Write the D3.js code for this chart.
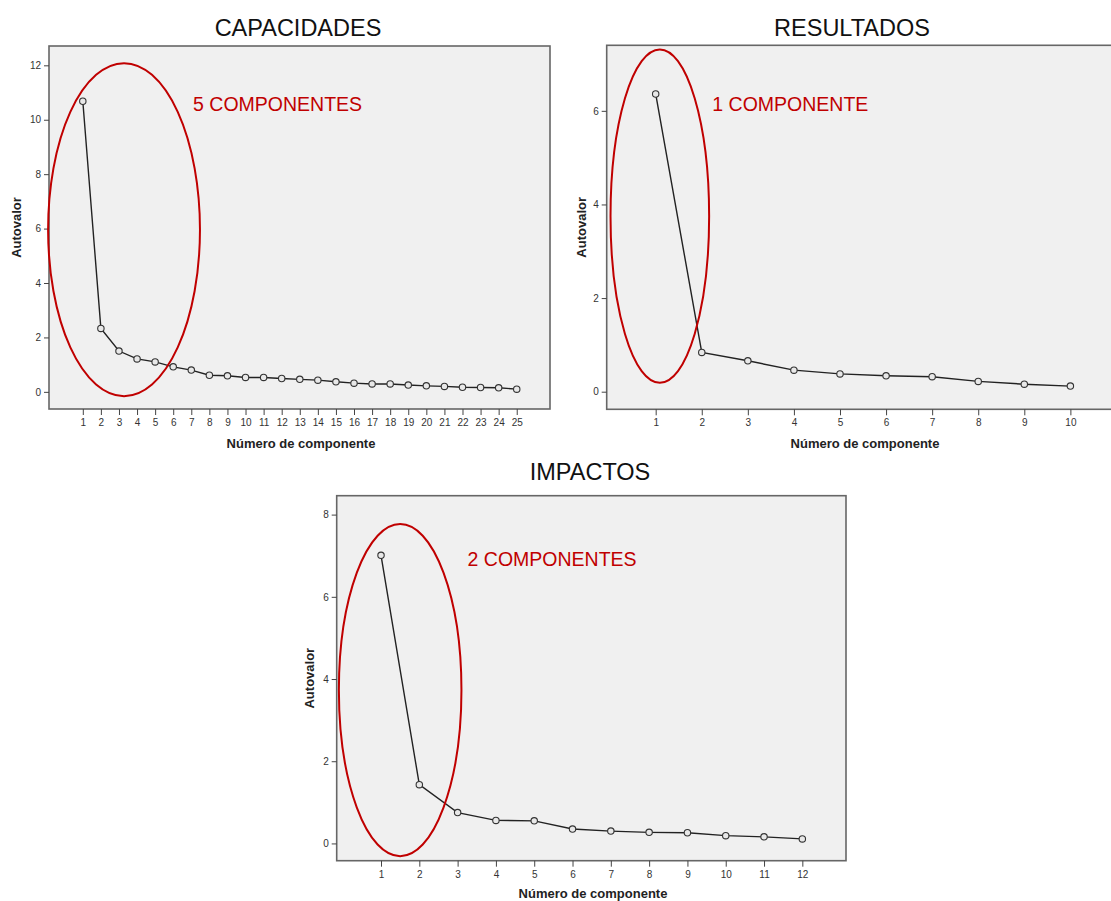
<!DOCTYPE html>
<html><head><meta charset="utf-8">
<script src="https://cdn.jsdelivr.net/npm/d3@7"></script>
<style>
body{margin:0;background:#fff;}
text{font-family:"Liberation Sans",Arial,sans-serif;}
</style></head>
<body><svg id="c" width="1111" height="901"></svg>
<script>
// ---- data ----
const capComponents = d3.range(1, 26);
const capEigen = [10.68, 2.33, 1.50, 1.21, 1.10, 0.92, 0.80, 0.61, 0.59, 0.53, 0.53, 0.49, 0.46, 0.43, 0.37, 0.32, 0.29, 0.29, 0.25, 0.22, 0.20, 0.17, 0.16, 0.15, 0.10];
const capYTicks = [0, 2, 4, 6, 8, 10, 12];

const resComponents = d3.range(1, 11);
const resEigen = [6.36, 0.84, 0.66, 0.46, 0.38, 0.34, 0.32, 0.22, 0.16, 0.12];
const resYTicks = [0, 2, 4, 6];

const impComponents = d3.range(1, 13);
const impEigen = [7.01, 1.43, 0.75, 0.56, 0.55, 0.35, 0.30, 0.27, 0.26, 0.19, 0.16, 0.11];
const impYTicks = [0, 2, 4, 6, 8];

const titles = ["CAPACIDADES", "RESULTADOS", "IMPACTOS"];
const notes = ["5 COMPONENTES", "1 COMPONENTE", "2 COMPONENTES"];
// annotation ellipses in data units: [cx, cy, rx, ry]
const ellipses = [[3.28, 5.96, 4.2, 6.12], [1.09, 3.75, 1.07, 3.56], [1.50, 3.73, 1.60, 4.04]];
// annotation text anchor in data units: [x, y]
const notePos = [[7.1, 10.32], [2.23, 6.0], [3.26, 6.75]];
const yLabel = "Autovalor";
const xLabel = "Número de componente";

// ---- layout ----
const panels = [
  {comp: capComponents, vals: capEigen, yt: capYTicks, frame: [49, 46, 550, 409], xd: [-0.87, 26.84], yd: [-0.63, 12.71], titleX: 298, titleY: 36, yLabX: 17, xLabX: 301, xLabY: 448},
  {comp: resComponents, vals: resEigen, yt: resYTicks, frame: [606.7, 45.3, 1116, 409.3], xd: [-0.063, 10.99], yd: [-0.376, 7.40], titleX: 852, titleY: 36, yLabX: 582, xLabX: 865, xLabY: 448},
  {comp: impComponents, vals: impEigen, yt: impYTicks, frame: [336.7, 495.7, 846, 860.7], xd: [-0.157, 13.14], yd: [-0.42, 8.46], titleX: 590, titleY: 480, yLabX: 310, xLabX: 593, xLabY: 898}
];

const svg = d3.select("#c");
const red = "#c00000";

panels.forEach((p, i) => {
  const [x0, y0, x1, y1] = p.frame;
  const x = d3.scaleLinear().domain(p.xd).range([x0, x1]);
  const y = d3.scaleLinear().domain(p.yd).range([y1, y0]);
  const g = svg.append("g");

  g.append("rect").attr("x", x0).attr("y", y0).attr("width", x1 - x0).attr("height", y1 - y0)
    .attr("fill", "#f0f0f0").attr("stroke", "#666").attr("stroke-width", 1.6);

  const ya = d3.axisLeft(y).tickValues(p.yt).tickSize(5).tickPadding(3).tickFormat(d3.format("d"));
  const yg = g.append("g").attr("transform", `translate(${x0},0)`).call(ya);
  const xa = d3.axisBottom(x).tickValues(p.comp).tickSize(6).tickPadding(4).tickFormat(d3.format("d"));
  const xg = g.append("g").attr("transform", `translate(0,${y1})`).call(xa);
  [yg, xg].forEach(a => {
    a.select(".domain").remove();
    a.selectAll("line").attr("stroke", "#444");
    a.selectAll("text").attr("fill", "#333").attr("font-size", 10).attr("font-family", "Liberation Sans, Arial, sans-serif");
  });

  const line = d3.line().x((d, j) => x(p.comp[j])).y(d => y(d));
  g.append("path").datum(p.vals).attr("d", line).attr("fill", "none").attr("stroke", "#222").attr("stroke-width", 1.4);
  g.selectAll("circle.pt").data(p.vals).join("circle").attr("class", "pt")
    .attr("cx", (d, j) => x(p.comp[j])).attr("cy", d => y(d)).attr("r", 3.2)
    .attr("fill", "#e8e8e8").attr("stroke", "#333").attr("stroke-width", 1.1);

  const e = ellipses[i];
  g.append("ellipse").attr("cx", x(e[0])).attr("cy", y(e[1]))
    .attr("rx", x(e[0] + e[2]) - x(e[0])).attr("ry", y(e[1]) - y(e[1] + e[3]))
    .attr("fill", "none").attr("stroke", red).attr("stroke-width", 2);

  g.append("text").attr("x", x(notePos[i][0])).attr("y", y(notePos[i][1]))
    .attr("fill", red).attr("font-size", 19.5).text(notes[i]);

  svg.append("text").attr("x", p.titleX).attr("y", p.titleY).attr("text-anchor", "middle")
    .attr("font-size", 23.5).attr("fill", "#111").text(titles[i]);

  svg.append("text").attr("transform", `translate(${p.yLabX + 4},${(y0 + y1) / 2}) rotate(-90)`)
    .attr("text-anchor", "middle").attr("font-size", 13).attr("font-weight", "bold").attr("fill", "#222").text(yLabel);
  svg.append("text").attr("x", p.xLabX).attr("y", p.xLabY).attr("text-anchor", "middle")
    .attr("font-size", 13).attr("font-weight", "bold").attr("fill", "#222").text(xLabel);
});
</script></body></html>
